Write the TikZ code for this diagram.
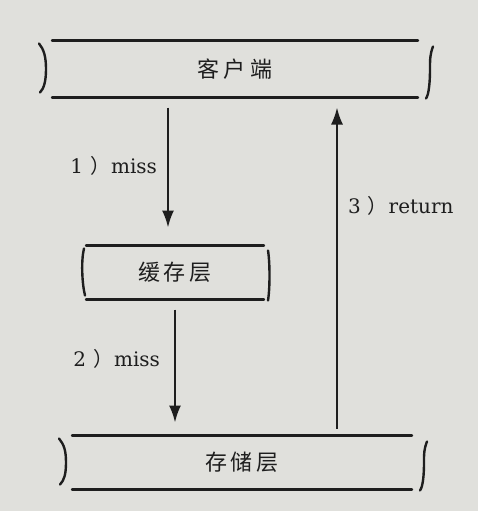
\documentclass[tikz,border=0pt]{standalone}
\usepackage{fontspec}
\setmainfont{DejaVu Serif}
\newfontfamily\cjk{Noto Sans CJK SC}
\usetikzlibrary{positioning, arrows.meta}
\definecolor{paper}{RGB}{224,224,220}
\definecolor{ink}{RGB}{30,30,30}

\begin{document}
\begin{tikzpicture}
    \tikzstyle{layer} = [rectangle,inner sep=0pt,outer sep=0pt,text centered,font=\cjk\fontsize{22}{25}\selectfont,text=ink]
    \tikzstyle{edge} = [draw=ink,line width=2.4pt,line cap=round]
    \tikzstyle{flow} = [draw=ink,line width=2pt,-{Latex[length=17pt,width=12pt]}]
    \tikzstyle{tag} = [font=\fontsize{20}{23}\selectfont,text=ink,inner sep=0pt]

    \fill [paper] (0,0) rectangle (478pt,-511pt);
    \useasboundingbox (0,0) rectangle (478pt,-511pt);

    \node (client) [layer,minimum width=366pt,minimum height=57pt] at (235pt,-69pt) {客\hspace{5pt}户\hspace{5pt}端};
    \node (cache) [layer,minimum width=178pt,minimum height=54pt,below=148pt of client,xshift=-60pt] {缓\hspace{4pt}存\hspace{4pt}层};
    \node (store) [layer,minimum width=340pt,minimum height=54pt,below=136pt of cache,xshift=67pt] {存\hspace{4pt}储\hspace{4pt}层};

    \foreach \n in {client,cache,store} {
        \draw [edge] (\n.north west) -- (\n.north east);
        \draw [edge] (\n.south west) -- (\n.south east);
    }

    % wavy ends
    \foreach \n in {client,store} {
        \draw [edge] ([xshift=-13pt,yshift=-3pt]\n.north west) .. controls +(5pt,-6pt) and +(0pt,12pt) .. ([xshift=-6pt]\n.west) .. controls +(0pt,-12pt) and +(4pt,4pt) .. ([xshift=-12pt,yshift=5pt]\n.south west);
        \draw [edge] ([xshift=15pt,yshift=-6pt]\n.north east) .. controls +(-3pt,-8pt) and +(0pt,10pt) .. ([xshift=12pt]\n.east) .. controls +(0pt,-12pt) and +(3pt,4pt) .. ([xshift=8pt,yshift=-1pt]\n.south east);
    }
    \draw [edge] ([xshift=-2pt,yshift=-3pt]cache.north west) .. controls +(-3pt,-12pt) and +(-3pt,12pt) .. ([xshift=-1pt,yshift=4pt]cache.south west);
    \draw [edge] ([xshift=4pt,yshift=-5pt]cache.north east) .. controls +(2pt,-12pt) and +(2pt,12pt) .. ([xshift=4pt,yshift=-1pt]cache.south east);

    \coordinate (down1) at ([xshift=-7pt]cache.north);
    \coordinate (up3) at ([xshift=95pt]store.north);

    \draw [flow,shorten <=10pt,shorten >=18pt] (down1 |- client.south) -- (down1)
        node [tag,pos=0.46,left=10pt] {1\hspace{7pt}{\cjk ）}\hspace{1pt}miss};
    \draw [flow,shorten <=10pt,shorten >=13pt] (cache.south) -- (cache.south |- store.north)
        node [tag,pos=0.44,left=14pt] {2\hspace{7pt}{\cjk ）}\hspace{1pt}miss};
    \draw [flow,shorten <=7pt,shorten >=10pt] (up3) -- (up3 |- client.south)
        node [tag,pos=0.68,right=10pt] {3\hspace{7pt}{\cjk ）}\hspace{1pt}return};
\end{tikzpicture}
\end{document}
